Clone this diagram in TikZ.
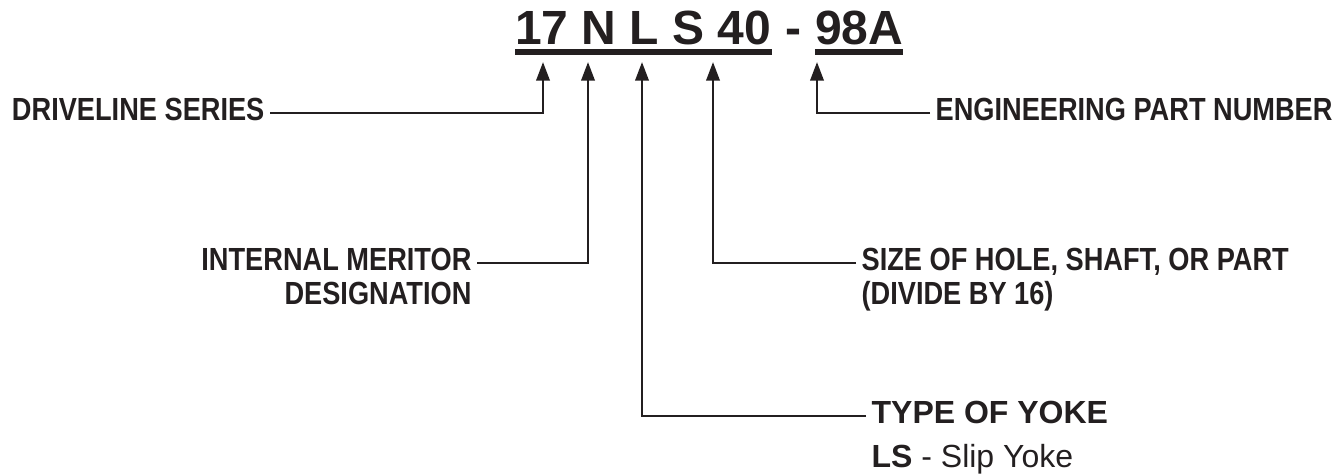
\documentclass[tikz,border=0pt]{standalone}
\usepackage{fontspec}
\setmainfont{Liberation Sans}
\newfontfamily\narrowfont[FakeStretch=0.85]{Liberation Sans}
\usetikzlibrary{arrows.meta,positioning}
\definecolor{ink}{HTML}{231F20}

\begin{document}
\begin{tikzpicture}[
  x=0.75pt,y=-0.75pt,
  >={Triangle[length=14pt,width=10pt]},
  every node/.style={text=ink},
  code/.style={font=\fontsize{36}{40}\selectfont\bfseries,inner sep=0pt},
  tag/.style={font=\narrowfont\fontsize{24}{28}\selectfont\bfseries,
    inner xsep=4pt,inner ysep=0pt,text height=17pt,text depth=6pt},
  note/.style={font=\fontsize{24}{28}\selectfont,
    inner xsep=4pt,inner ysep=0pt,text height=17pt,text depth=6pt},
  link/.style={->,draw=ink,line width=2pt},
  uline/.style={draw=ink,line width=4pt}
]
  \useasboundingbox (0,0) rectangle (1339,475);
  \node[code,anchor=base west] (code) at (515,44) {17 N L S 40};
  \node[code,right=10pt of code.base east,anchor=base west] (dash) {-};
  \node[code,right=10pt of dash.base east,anchor=base west] (part) {98A};
  \draw[uline] ([yshift=-6pt]code.base west) -- ([yshift=-6pt]code.base east);
  \draw[uline] ([yshift=-6pt]part.base west) -- ([yshift=-6pt]part.base east);

  \coordinate (t17) at (543,62);
  \coordinate (tN) at (588,62);
  \coordinate (tL) at (642,62);
  \coordinate (t40) at (713,62);
  \coordinate (t98) at (817,62);

  \node[tag,anchor=east] (series) at (270,113) {DRIVELINE SERIES};
  \node[tag,anchor=west] (epn) at (930,113) {ENGINEERING PART NUMBER};
  \node[tag,anchor=east] (meritor) at (477,263) {INTERNAL MERITOR};
  \node[tag,below left=2.5pt and 0pt of meritor.south east] (desig) {DESIGNATION};
  \node[tag,anchor=west] (size) at (856,263) {SIZE OF HOLE, SHAFT, OR PART};
  \node[tag,below right=2.5pt and 0pt of size.south west] (divide) {(DIVIDE BY 16)};
  \node[note,anchor=west] (yoke) at (866,416) {\textbf{TYPE OF YOKE}};
  \node[note,below right=10pt and 0pt of yoke.south west] (slip) {\textbf{LS} - Slip Yoke};

  \draw[link] (series) -| (t17);
  \draw[link] (meritor) -| (tN);
  \draw[link] (yoke) -| (tL);
  \draw[link] (size) -| (t40);
  \draw[link] (epn) -| (t98);
\end{tikzpicture}
\end{document}
